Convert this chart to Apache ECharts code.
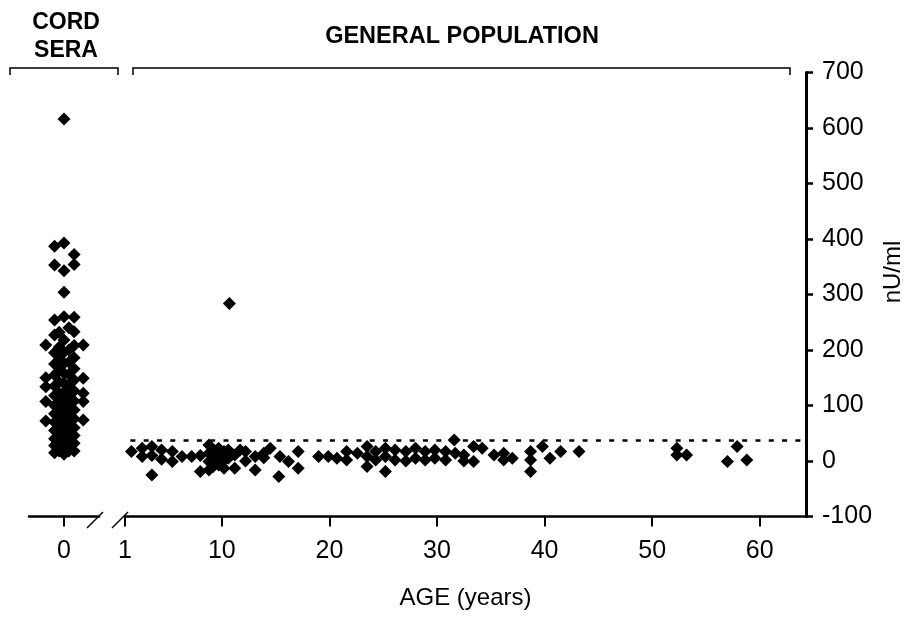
<!DOCTYPE html>
<html><head><meta charset="utf-8">
<script src="https://cdn.jsdelivr.net/npm/echarts@6/dist/echarts.min.js"></script>
<style>html,body{margin:0;padding:0;background:#fff}#c{width:912px;height:617px}</style>
</head><body><div id="c"></div>
<script>
// ---- data ----
// Cord sera: horizontal jitter offset (around age 0) and value (nU/ml)
const cordOffset = [
  -0.52,-0.52,-0.52,-0.52,-0.52,
  -0.27,-0.27,-0.27,-0.27,-0.27,-0.27,-0.27,-0.27,-0.27,-0.27,-0.27,-0.27,-0.27,-0.27,-0.27,-0.27,
  -0.14,-0.14,-0.14,-0.14,-0.14,-0.14,-0.14,-0.14,-0.14,-0.14,-0.14,-0.14,-0.14,-0.14,
  0,0,0,0,0,0,0,0,0,0,0,0,0,0,0,0,0,0,0,0,0,
  0.14,0.14,0.14,0.14,0.14,0.14,0.14,0.14,0.14,0.14,0.14,0.14,0.14,0.14,
  0.29,0.29,0.29,0.29,0.29,0.29,0.29,0.29,0.29,0.29,0.29,0.29,0.29,0.29,0.29,0.29,
  0.55,0.55,0.55,0.55,0.55
];
const cordValue = [
  209,150,134,107,72,
  387,353,254,227,195,175,155,135,118,100,85,70,55,40,28,15,
  232,205,182,162,142,122,105,92,80,68,55,42,30,18,
  616,393,343,304,260,218,196,176,158,140,124,110,98,86,75,64,52,42,32,22,12,
  240,200,178,156,136,116,102,90,78,66,54,42,30,18,
  372,354,259,233,208,186,166,146,126,108,92,76,60,46,32,18,
  209,149,122,107,74
];
// General population: age (years) and value (nU/ml)
const popAge = [
  1.6,2.6,2.6,3.5,3.5,3.5,4.4,4.4,5.4,5.4,6.3,7.2,8.0,8.0,
  8.8,8.8,8.8,8.8,9.2,9.2,9.2,9.7,9.7,9.7,10.2,10.2,10.2,10.6,10.6,10.7,
  11.2,11.2,11.7,12.2,12.2,13.1,13.1,13.9,13.9,14.5,15.4,15.3,16.2,17.1,17.1,
  19.0,19.9,20.7,21.6,21.6,22.6,23.5,23.5,23.5,24.3,24.3,25.2,25.2,25.2,
  26.1,26.1,27.1,27.1,28.0,28.0,28.9,28.9,29.8,29.8,30.8,30.8,31.6,31.7,
  32.5,32.5,33.4,33.4,34.2,35.3,36.2,36.2,37.0,38.7,38.7,38.7,39.8,40.5,
  41.5,43.2,52.3,52.3,53.2,57.0,57.9,58.8
];
const popValue = [
  17,23,8,26,10,-25,20,3,17,-1,8,8,10,-19,
  29,14,-1,-16,20,5,-10,23,8,-7,17,2,-13,20,5,284,
  11,-13,20,17,0,8,-16,14,6,23,8,-28,-1,17,-13,
  8,8,5,17,2,14,26,8,-10,17,2,23,8,-19,
  20,2,17,0,23,5,17,2,20,5,17,2,38,14,
  11,0,26,-1,23,11,14,2,5,17,2,-19,26,5,
  17,17,23,11,11,-1,26,2
];
const refLevel = 37;                 // dotted threshold line
const ageTicks = [1,10,20,30,40,50,60];
const cordTicks = [0];
const yMin = -100, yMax = 700, yStep = 100;

// ---- build series data ----
const cordData = cordOffset.map((o,i)=>[o, cordValue[i]]);
const popData = popAge.map((a,i)=>[a, popValue[i]]);

const FONT = 'Liberation Sans, Arial, Helvetica, sans-serif';
const BLACK = '#000';
const dotted = {color: BLACK, type: [5, 8.3], width: 2.5, cap: 'butt'};

const chart = echarts.init(document.getElementById('c'), null, {renderer:'canvas'});
chart.setOption({
  backgroundColor: '#fff',
  animation: false,
  grid: [
    {left: 29, width: 70, top: 72.5, bottom: 100.5, outerBoundsMode: 'none'},
    {left: 125, right: 106, top: 72.5, bottom: 100.5, outerBoundsMode: 'none'}
  ],
  xAxis: [
    {gridIndex: 0, type: 'value', min: -1, max: 1,
     axisLine: {onZero: false, lineStyle: {color: BLACK, width: 2.5}},
     axisTick: {show: true, customValues: cordTicks, length: 10, lineStyle: {color: BLACK, width: 2}},
     axisLabel: {customValues: cordTicks, fontSize: 25, color: BLACK, fontFamily: FONT, margin: 22},
     splitLine: {show: false}},
    {gridIndex: 1, type: 'value', min: 1, max: 64.3,
     axisLine: {onZero: false, lineStyle: {color: BLACK, width: 2.5}},
     axisTick: {show: true, customValues: ageTicks, length: 10, lineStyle: {color: BLACK, width: 2}},
     axisLabel: {customValues: ageTicks, fontSize: 25, color: BLACK, fontFamily: FONT, margin: 22},
     splitLine: {show: false},
     name: 'AGE (years)', nameLocation: 'middle', nameGap: 70,
     nameTextStyle: {fontSize: 24, color: BLACK, fontFamily: FONT}}
  ],
  yAxis: [
    {gridIndex: 0, type: 'value', min: yMin, max: yMax, interval: yStep, show: false},
    {gridIndex: 1, type: 'value', min: yMin, max: yMax, interval: yStep, position: 'right',
     axisLine: {show: true, onZero: false, lineStyle: {color: BLACK, width: 3}},
     axisTick: {show: true, length: 7, lineStyle: {color: BLACK, width: 2.5}},
     axisLabel: {fontSize: 25, color: BLACK, fontFamily: FONT, margin: 16},
     splitLine: {show: false}}
  ],
  series: [
    {type: 'scatter', xAxisIndex: 0, yAxisIndex: 0, data: cordData, clip: false,
     symbol: 'diamond', symbolSize: 13, itemStyle: {color: BLACK, opacity: 1},
     markLine: {silent: true, symbol: ['none','none'], label: {show:false}, lineStyle: dotted,
       data: [[{coord: [-1.06, refLevel]}, {coord: [1.3, refLevel]}]]}},
    {type: 'scatter', xAxisIndex: 1, yAxisIndex: 1, data: popData, clip: false,
     symbol: 'diamond', symbolSize: 13, itemStyle: {color: BLACK, opacity: 1},
     markLine: {silent: true, symbol: ['none','none'], label: {show:false}, lineStyle: dotted,
       data: [[{coord: [1.5, refLevel]}, {coord: [63.8, refLevel]}]]}}
  ],
  graphic: [
    // group brackets
    {type: 'polyline', shape: {points: [[10,75],[10,68],[118,68],[118,75]]},
     style: {stroke: BLACK, lineWidth: 1.5, fill: null}, silent: true},
    {type: 'polyline', shape: {points: [[133,75],[133,68],[790,68],[790,75]]},
     style: {stroke: BLACK, lineWidth: 1.5, fill: null}, silent: true},
    {type: 'text', x: 66, y: 23, style: {text: 'CORD', font: 'bold 23px ' + FONT, fill: BLACK, align: 'center', verticalAlign: 'middle'}},
    {type: 'text', x: 66, y: 51, style: {text: 'SERA', font: 'bold 23px ' + FONT, fill: BLACK, align: 'center', verticalAlign: 'middle'}},
    {type: 'text', x: 462, y: 37, style: {text: 'GENERAL POPULATION', font: 'bold 23.5px ' + FONT, fill: BLACK, align: 'center', verticalAlign: 'middle'}},
    // y-axis title
    {type: 'text', x: 893, y: 272, rotation: Math.PI / 2,
     style: {text: 'nU/ml', font: '24px ' + FONT, fill: BLACK, align: 'center', verticalAlign: 'middle'}},
    // axis break marks
    {type: 'line', shape: {x1: 87, y1: 528, x2: 103, y2: 512}, style: {stroke: BLACK, lineWidth: 1.5}, silent: true},
    {type: 'line', shape: {x1: 112, y1: 528, x2: 128, y2: 512}, style: {stroke: BLACK, lineWidth: 1.5}, silent: true}
  ]
});
</script></body></html>
